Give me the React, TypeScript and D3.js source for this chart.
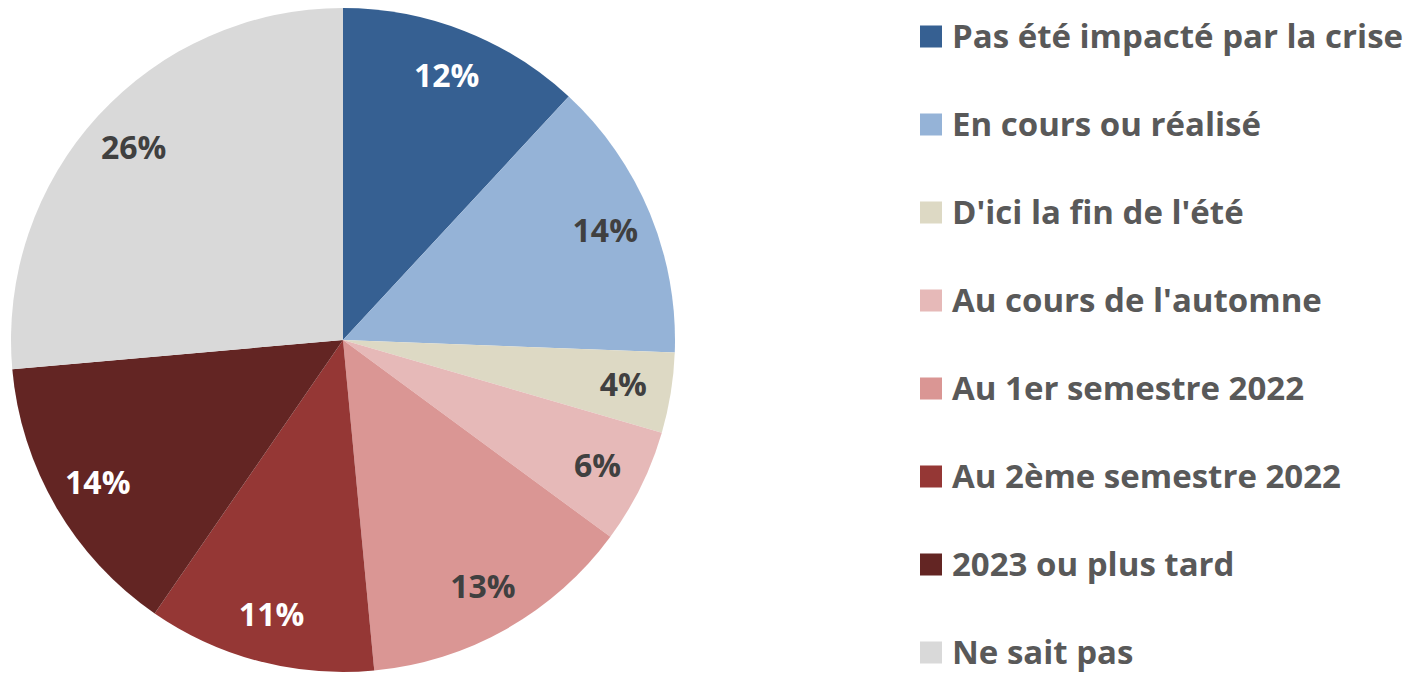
import React, { useEffect, useRef } from 'react';
import * as d3 from 'd3';

const categories = [
  'Pas été impacté par la crise',
  'En cours ou réalisé',
  "D'ici la fin de l'été",
  "Au cours de l'automne",
  'Au 1er semestre 2022',
  'Au 2ème semestre 2022',
  '2023 ou plus tard',
  'Ne sait pas',
];
const values = [11.9, 13.7, 3.9, 5.6, 13.4, 11.1, 14.0, 26.4];
const labels = ['12%', '14%', '4%', '6%', '13%', '11%', '14%', '26%'];
const colors = ['#366092', '#95B3D7', '#DDD9C4', '#E6B9B8', '#DA9694', '#953735', '#632523', '#D9D9D9'];
const labelColors = ['#fff', '#404040', '#404040', '#404040', '#404040', '#fff', '#fff', '#404040'];

export default function App() {
  const svgRef = useRef<SVGSVGElement>(null);

  useEffect(() => {
    const width = 1417;
    const height = 673;
    const cx = 343;
    const cy = 340;
    const radius = 332;
    const font = "'Open Sans', 'DejaVu Sans', sans-serif";

    const svg = d3.select(svgRef.current).attr('width', width).attr('height', height);
    svg.selectAll('*').remove();

    const g = svg.append('g').attr('transform', `translate(${cx},${cy})`);

    const pie = d3.pie<number>().sort(null).value((d) => d);
    const arc = d3.arc<d3.PieArcDatum<number>>().innerRadius(0).outerRadius(radius);
    const labelArc = d3.arc<d3.PieArcDatum<number>>().innerRadius(radius * 0.855).outerRadius(radius * 0.855);

    const arcs = pie(values);

    g.selectAll('path')
      .data(arcs)
      .enter()
      .append('path')
      .attr('d', arc)
      .attr('fill', (d, i) => colors[i]);

    g.selectAll('text')
      .data(arcs)
      .enter()
      .append('text')
      .attr('transform', (d) => `translate(${labelArc.centroid(d)})`)
      .attr('text-anchor', 'middle')
      .attr('dy', '0.34em')
      .style('font-family', font)
      .style('font-weight', 700)
      .style('font-size', '32px')
      .style('fill', (d, i) => labelColors[i])
      .text((d, i) => labels[i]);

    // legend
    const y = d3.scalePoint<string>().domain(categories).range([36.5, 652.5]);
    const legend = svg
      .selectAll('.legend')
      .data(categories)
      .enter()
      .append('g')
      .attr('class', 'legend')
      .attr('transform', (d) => `translate(920,${y(d)})`);

    legend
      .append('rect')
      .attr('x', 0)
      .attr('y', -11)
      .attr('width', 22)
      .attr('height', 22)
      .attr('fill', (d, i) => colors[i]);

    legend
      .append('text')
      .attr('x', 32)
      .attr('dy', '0.34em')
      .style('font-family', font)
      .style('font-weight', 700)
      .style('font-size', '33px')
      .style('fill', '#595959')
      .text((d) => d);
  }, []);

  return (
    <div style={{ position: 'absolute', left: 0, top: 0 }}>
      <svg ref={svgRef}></svg>
    </div>
  );
}
